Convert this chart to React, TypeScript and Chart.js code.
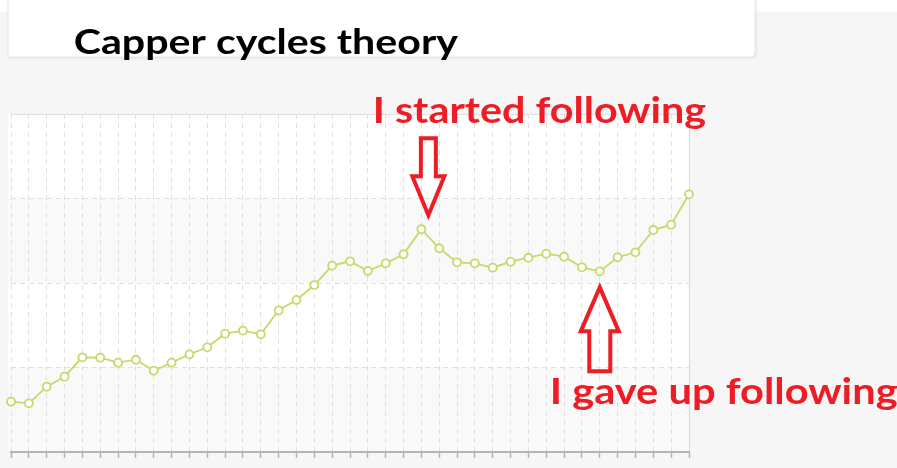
import React, { useEffect, useRef } from "react";
import { Chart, registerables } from "chart.js";

Chart.register(...registerables);

// ---- data ----
const categories = [
  "1", "2", "3", "4", "5", "6", "7", "8", "9", "10",
  "11", "12", "13", "14", "15", "16", "17", "18", "19", "20",
  "21", "22", "23", "24", "25", "26", "27", "28", "29", "30",
  "31", "32", "33", "34", "35", "36", "37", "38", "39",
];

const seriesValues = [
  59.5, 57.6, 77.3, 89.1, 112.1, 111.6, 105.7, 109.2, 96.2, 105.7,
  115.6, 123.9, 140.0, 143.6, 139.3, 167.7, 179.9, 197.6, 220.5, 225.7,
  214.2, 223.3, 234.0, 263.6, 241.1, 224.5, 223.3, 218.1, 225.2, 229.9,
  234.7, 231.1, 218.6, 213.8, 230.4, 236.3, 262.7, 269.0, 305.0,
];

const yTicks = [0, 100, 200, 300, 400];
const shadedBands = [
  [0, 100],
  [200, 300],
];

const chartTitle = "Capper cycles theory";
const startText = "I started following";
const stopText = "I gave up following";
const startIndex = 23; // peak where following started
const stopIndex = 33; // trough where following stopped

// ---- styles ----
const PAGE_BG = "#f6f6f6";
const LINE_COLOR = "#c6d96a";
const RED = "#ee1d25";
const GRID = "#e0e0e0";

function fitText(
  ctx: CanvasRenderingContext2D,
  text: string,
  x: number,
  baseline: number,
  inkWidth: number,
  size: number,
  color: string
) {
  ctx.save();
  ctx.font = `bold ${size}px Lato, "Open Sans", sans-serif`;
  ctx.fillStyle = color;
  ctx.textBaseline = "alphabetic";
  ctx.textAlign = "left";
  const m = ctx.measureText(text);
  const abl = m.actualBoundingBoxLeft || 0;
  const abr = m.actualBoundingBoxRight || m.width;
  const w = abl + abr;
  const s = inkWidth / w;
  ctx.translate(x + abl * s, baseline);
  ctx.scale(s, 1);
  ctx.fillText(text, 0, 0);
  ctx.restore();
}

function arrowPath(
  ctx: CanvasRenderingContext2D,
  tx: number,
  ty: number,
  dir: number, // 1 = pointing down, -1 = pointing up
  headHalf: number,
  headLen: number,
  shaftHalf: number,
  shaftLen: number
) {
  const hb = ty - dir * headLen;
  const se = hb - dir * shaftLen;
  ctx.beginPath();
  ctx.moveTo(tx - shaftHalf, se);
  ctx.lineTo(tx + shaftHalf, se);
  ctx.lineTo(tx + shaftHalf, hb);
  ctx.lineTo(tx + headHalf, hb);
  ctx.lineTo(tx, ty);
  ctx.lineTo(tx - headHalf, hb);
  ctx.lineTo(tx - shaftHalf, hb);
  ctx.closePath();
}

const decor = {
  id: "decor",
  beforeDraw(chart: any) {
    const { ctx, chartArea: ca, width, height } = chart;
    const y = chart.scales.y;
    ctx.save();
    ctx.fillStyle = PAGE_BG;
    ctx.fillRect(0, 0, width, height);
    ctx.fillStyle = "#ffffff";
    ctx.fillRect(0, 0, width, 12);

    // title panel
    const px = 8, pr = 755, pb = 57, rad = 5;
    const panel = () => {
      ctx.beginPath();
      ctx.moveTo(px, -2);
      ctx.lineTo(pr, -2);
      ctx.lineTo(pr, pb - rad);
      ctx.quadraticCurveTo(pr, pb, pr - rad, pb);
      ctx.lineTo(px, pb);
      ctx.closePath();
    };
    ctx.save();
    ctx.shadowColor = "rgba(0,0,0,0.10)";
    ctx.shadowBlur = 3;
    ctx.shadowOffsetX = 1;
    ctx.shadowOffsetY = 1;
    panel();
    ctx.fillStyle = "#ffffff";
    ctx.fill();
    ctx.restore();
    panel();
    ctx.strokeStyle = "#e6e6e6";
    ctx.lineWidth = 1;
    ctx.stroke();

    // plot background
    ctx.fillStyle = "#ffffff";
    ctx.fillRect(8, ca.top, ca.right - 8, ca.bottom - ca.top);
    ctx.fillStyle = "#f9f9f9";
    for (const b of shadedBands) {
      const y0 = y.getPixelForValue(b[1]);
      const y1 = y.getPixelForValue(b[0]);
      ctx.fillRect(8, y0, ca.right - 8, y1 - y0);
    }
    ctx.restore();
  },
  afterDraw(chart: any) {
    const { ctx } = chart;
    const meta = chart.getDatasetMeta(0);
    const a = meta.data[startIndex];
    const b = meta.data[stopIndex];
    ctx.save();
    ctx.strokeStyle = RED;
    ctx.lineWidth = 4;
    ctx.lineJoin = "miter";
    arrowPath(ctx, a.x + 7, a.y - 14, 1, 16, 39, 7.5, 38);
    ctx.stroke();
    arrowPath(ctx, b.x, b.y + 16, -1, 19, 44, 10.5, 40);
    ctx.stroke();
    ctx.restore();

    fitText(ctx, chartTitle, 75, 54, 383, 34, "#000000");
    fitText(ctx, startText, 375, 122.5, 331, 36, RED);
    fitText(ctx, stopText, 552, 403.5, 345, 37, RED);
  },
};

export default function App() {
  const ref = useRef<HTMLCanvasElement | null>(null);

  useEffect(() => {
    if (!ref.current) return;
    const lastIndex = categories.length - 1;
    const chart = new Chart(ref.current, {
      type: "line",
      data: {
        labels: categories,
        datasets: [
          {
            data: seriesValues,
            borderColor: LINE_COLOR,
            borderWidth: 1.8,
            pointRadius: 4,
            pointBorderWidth: 1.8,
            pointBackgroundColor: "#ffffff",
            pointBorderColor: LINE_COLOR,
            tension: 0,
            clip: false as any,
          },
        ],
      },
      options: {
        responsive: false,
        animation: false,
        layout: { padding: { left: 11, right: 208, top: 114, bottom: 10 } },
        plugins: {
          legend: { display: false },
          title: { display: false },
          tooltip: { enabled: false },
        },
        scales: {
          x: {
            type: "category",
            offset: false,
            ticks: { display: false },
            grid: {
              display: true,
              color: (c: any) => (c.index === lastIndex ? "#d8d8d8" : GRID),
              lineWidth: 1,
              drawTicks: true,
              tickLength: 6,
              tickColor: "#b4b4b4",
              tickWidth: 1.5,
            },
            border: {
              display: true,
              color: "#b4b4b4",
              width: 2,
              dash: (c: any) => (c.index === lastIndex ? [] : [5, 4]),
            },
          },
          y: {
            min: yTicks[0],
            max: yTicks[yTicks.length - 1],
            afterBuildTicks: (axis: any) => {
              axis.ticks = yTicks.map((v) => ({ value: v }));
            },
            ticks: { display: false },
            grid: {
              color: GRID,
              lineWidth: 1,
              drawTicks: false,
            },
            border: {
              display: false,
              dash: (c: any) =>
                c.tick && c.tick.value === yTicks[yTicks.length - 1] ? [] : [5, 4],
            },
          },
        },
      },
      plugins: [decor],
    });
    return () => chart.destroy();
  }, []);

  return (
    <div style={{ position: "fixed", left: 0, top: 0, width: 897, height: 468 }}>
      <canvas ref={ref} width={897} height={468} style={{ display: "block" }} />
    </div>
  );
}
